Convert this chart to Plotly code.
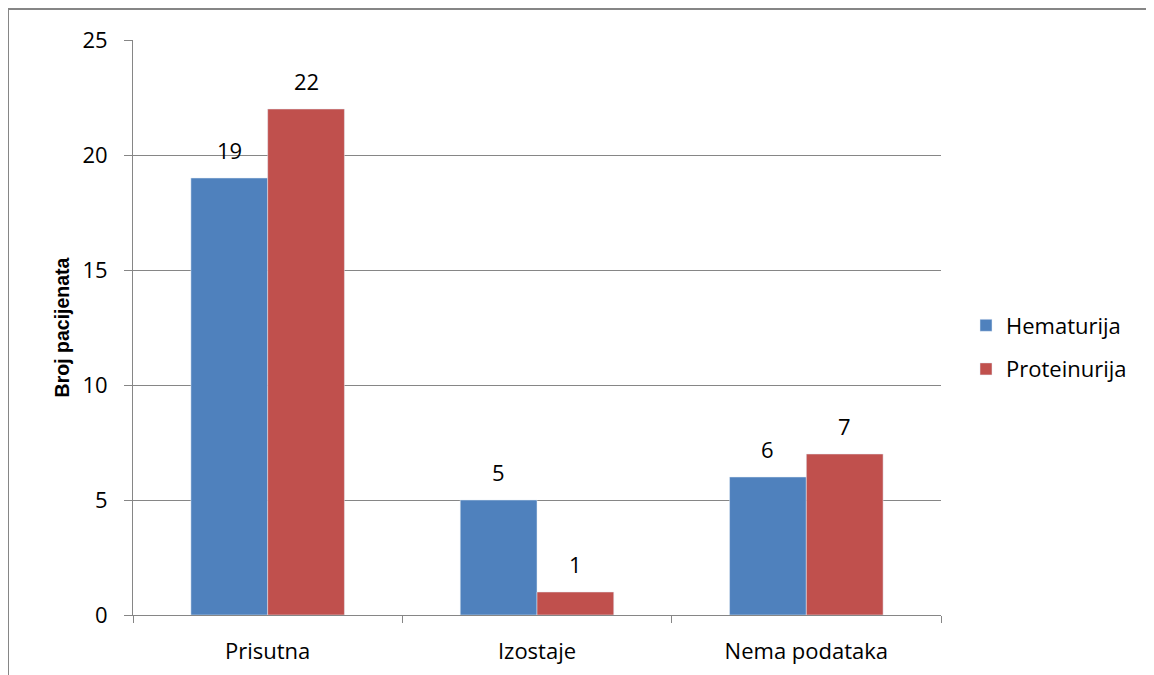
import plotly.graph_objects as go

categories = ["Prisutna", "Izostaje", "Nema podataka"]
hematurija = [19, 5, 6]
proteinurija = [22, 1, 7]
series_names = ["Hematurija", "Proteinurija"]
series_colors = ["#4F81BD", "#C0504D"]
y_ticks = [0, 5, 10, 15, 20, 25]

# page has an 8px body margin: shift figure coordinates accordingly
OFF = 8
W, H = 1154, 675
L, R, T, B = 133 - OFF, 941 - OFF, 40 - OFF, 615 - OFF
pw, ph = R - L, B - T
BARGAP = 0.43
bar_px = pw / len(categories) * (1 - BARGAP) / 2

def px_x(p):
    return (p - OFF - L) / pw

def px_y(p):
    return (B - (p - OFF)) / ph

font_family = "'Open Sans', sans-serif"

fig = go.Figure()
all_series = [hematurija, proteinurija]
for i, vals in enumerate(all_series):
    fig.add_trace(go.Bar(x=categories, y=vals, name=series_names[i],
                         marker_color=series_colors[i], legendgroup=f"g{i}"))
    shift = (i - 0.5) * bar_px
    for c, v in zip(categories, vals):
        fig.add_annotation(x=c, y=v, text=str(v), showarrow=False,
                           xanchor="center", yanchor="bottom",
                           xshift=shift, yshift=11,
                           font=dict(size=22, color="black", family=font_family))

fig.update_layout(
    width=W, height=H,
    margin=dict(l=L, r=W - R, t=T, b=H - B),
    plot_bgcolor="white", paper_bgcolor="white",
    font=dict(family=font_family, size=22, color="black"),
    barmode="group", bargap=BARGAP, bargroupgap=0,
    showlegend=True,
    legend=dict(x=px_x(966), y=px_y(347.5), xanchor="left", yanchor="middle",
                font=dict(size=22), traceorder="grouped", tracegroupgap=12),
    xaxis=dict(showline=True, linecolor="#868686", linewidth=1,
               ticks="outside", tickson="boundaries", ticklen=7, tickcolor="#868686",
               tickfont=dict(size=22), showgrid=False, ticklabelstandoff=17),
    yaxis=dict(range=[0, 25], tickvals=y_ticks, showline=True, linecolor="#868686",
               linewidth=1, ticks="outside", ticklen=8, tickcolor="#868686",
               showgrid=True, gridcolor="#868686", gridwidth=1,
               tickfont=dict(size=22), zeroline=False, ticklabelstandoff=12,
               title=dict(text="<b>Broj pacijenata</b>",
                          font=dict(size=19.5, family="'Liberation Sans', Arial, sans-serif"),
                          standoff=7)),
    shapes=[
        dict(type="line", xref="paper", yref="paper",
             x0=px_x(8), x1=px_x(1170), y0=px_y(9), y1=px_y(9),
             line=dict(color="#868686", width=2)),
        dict(type="line", xref="paper", yref="paper",
             x0=px_x(8), x1=px_x(8), y0=px_y(9), y1=px_y(690),
             line=dict(color="#868686", width=2)),
    ],
)

fig.write_html("out.html")
